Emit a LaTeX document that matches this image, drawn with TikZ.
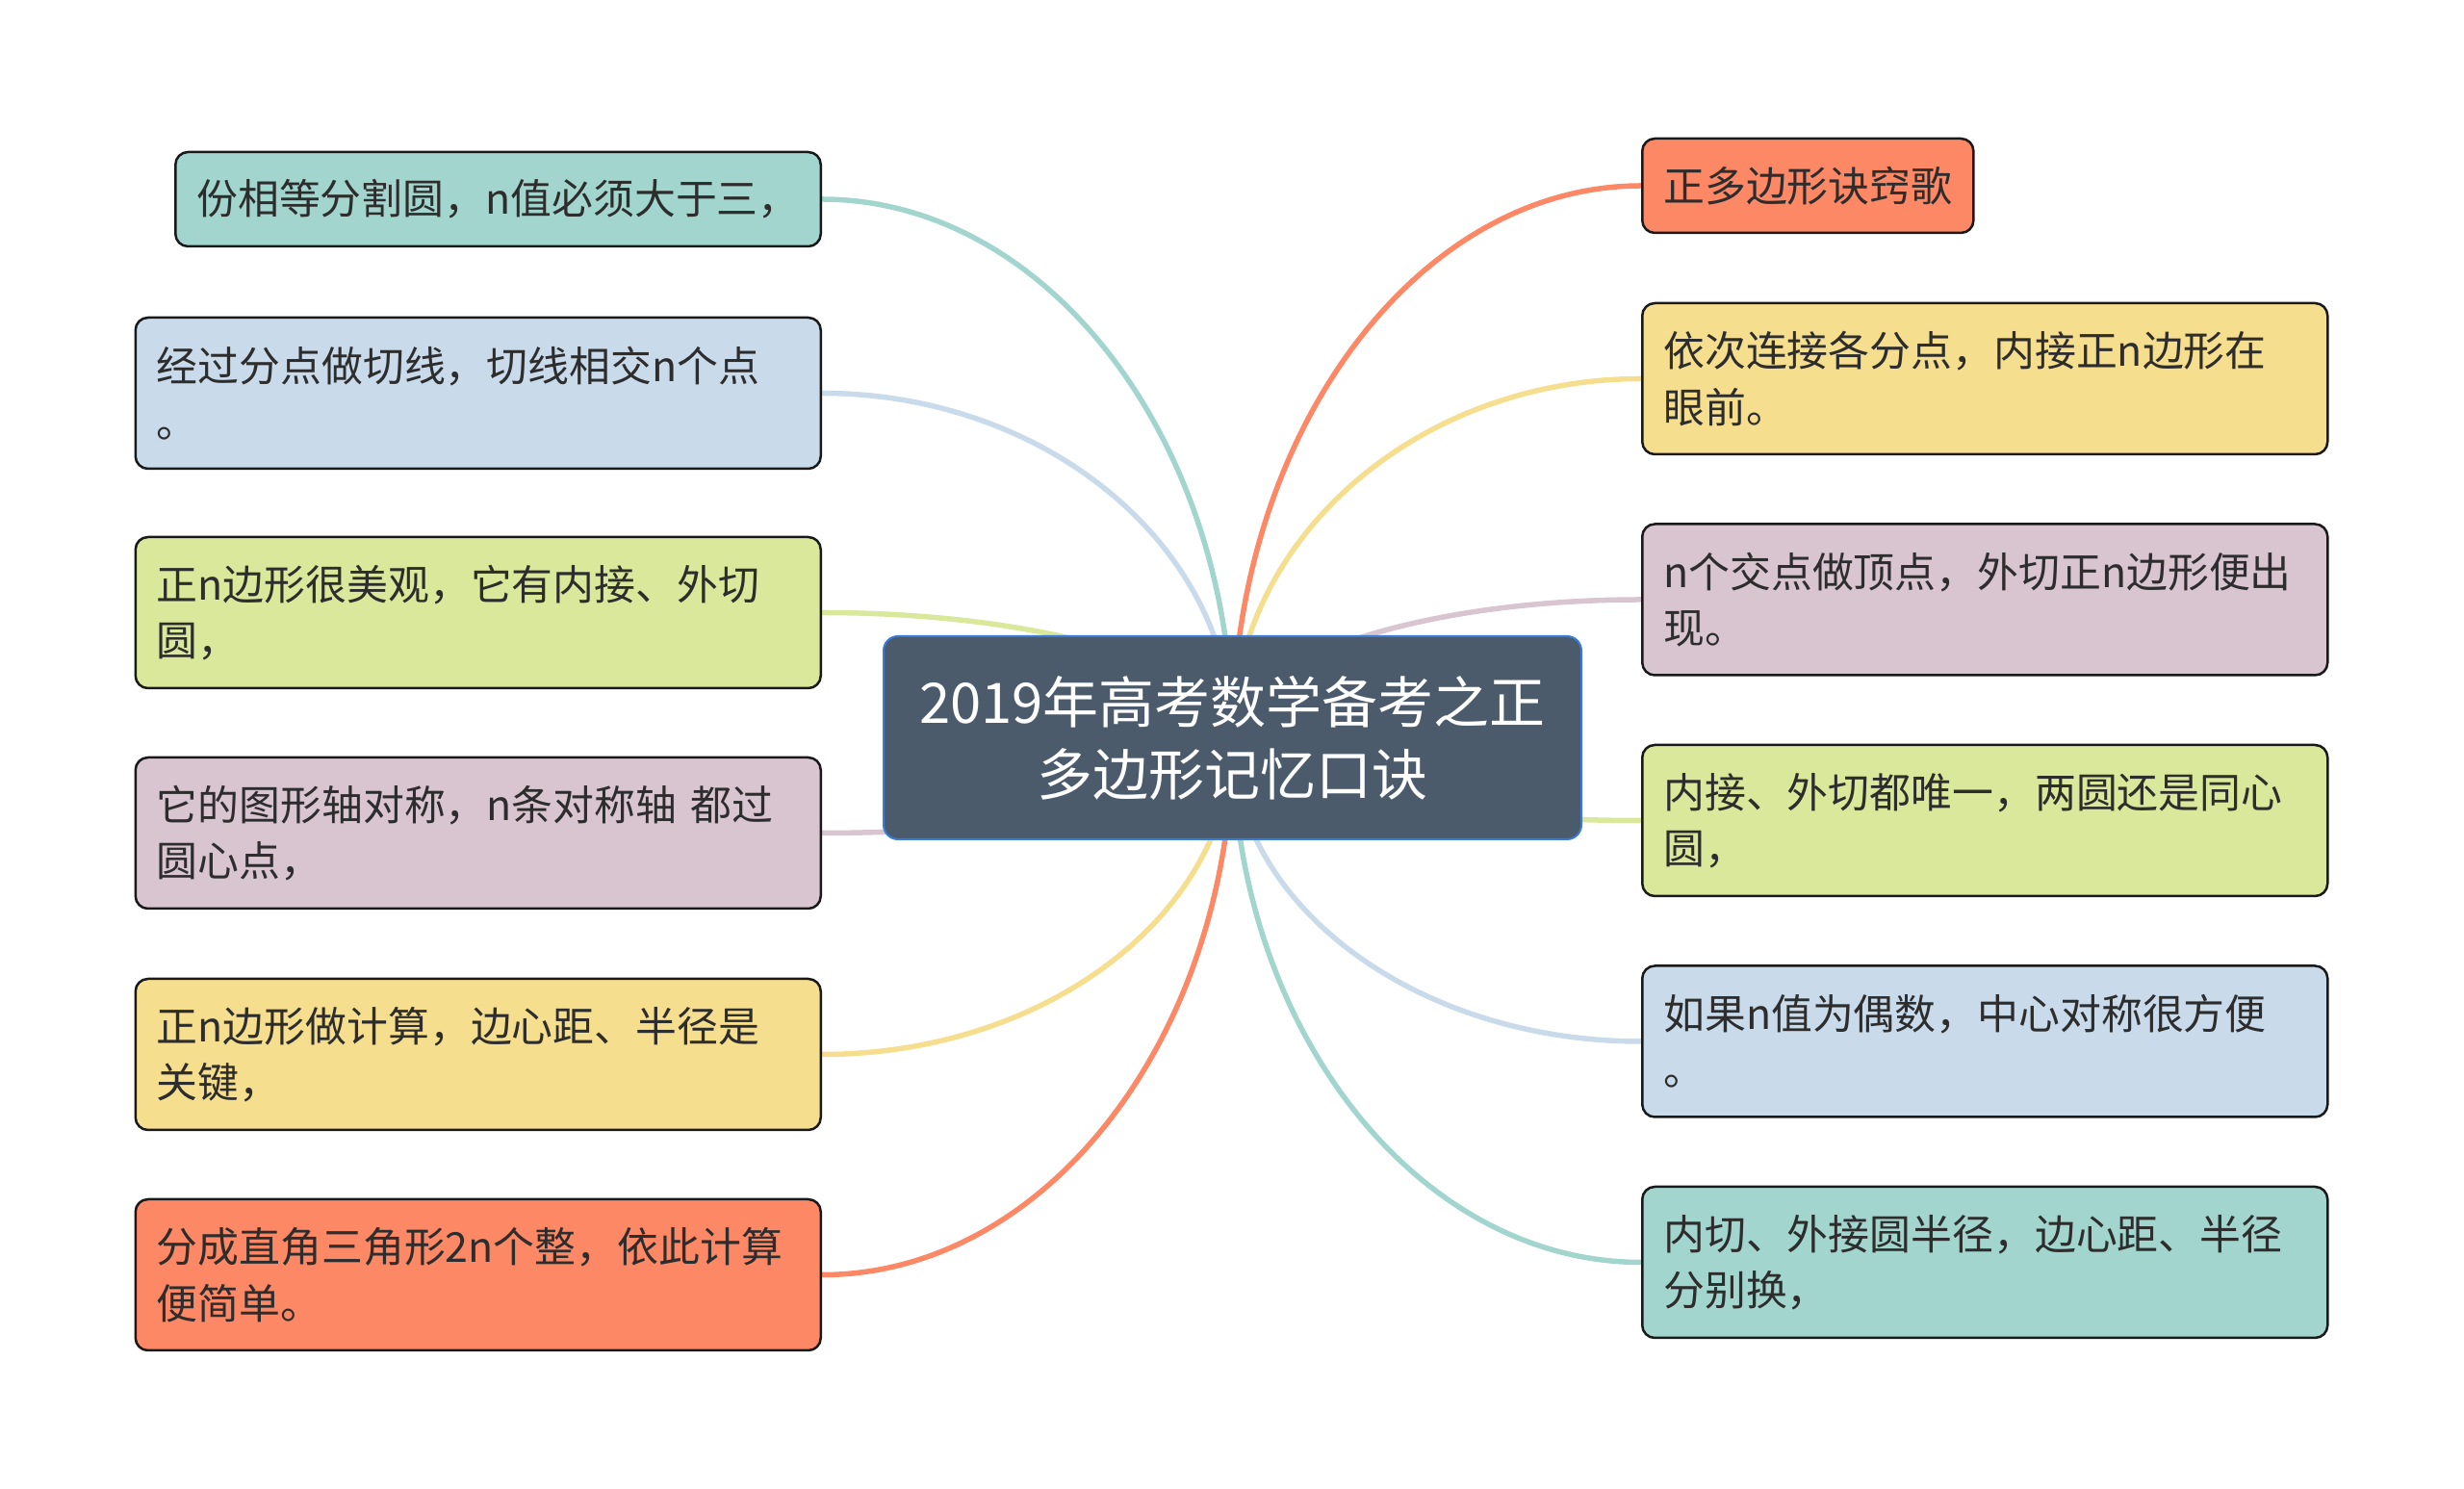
\documentclass[tikz,border=0pt]{standalone}
\usepackage{fontspec}
\usepackage{tikz}
\usetikzlibrary{backgrounds,calc}
\usepackage{xcolor}
\newfontfamily\cjkfont{Noto Sans CJK SC}
\definecolor{tealbox}{HTML}{A3D5CF}
\definecolor{bluebox}{HTML}{C9DBEA}
\definecolor{greenbox}{HTML}{DAE89B}
\definecolor{mauvebox}{HTML}{D8C5D0}
\definecolor{yellowbox}{HTML}{F6DE8F}
\definecolor{salmonbox}{HTML}{FC8866}
\definecolor{rootfill}{HTML}{4B5B6B}
\definecolor{rootline}{HTML}{3A7BD5}
\definecolor{leaftext}{HTML}{2D2D2D}

\begin{document}
\begin{tikzpicture}[
  leaf/.style={draw=black!90, line width=0.25mm, rounded corners=1.3mm, text=leaftext,
    font=\cjkfont\fontsize{12.2}{16.6}\selectfont, inner xsep=2.2mm, inner ysep=1mm, align=left},
  twoline/.style={leaf, text width=66.8mm, minimum height=15.7mm},
  oneline/.style={leaf, minimum height=9.8mm},
  branch/.style={line width=0.55mm}
]
\useasboundingbox (0,0) rectangle (25.6,15.47);
%%%ROOT
\node[draw=rootline, line width=0.2mm, fill=rootfill, rounded corners=1.5mm, text=white,
  font=\cjkfont\fontsize{16.5}{21.3}\selectfont, align=center,
  minimum width=72.5mm, minimum height=21.1mm] (root) at (12.805,7.805)
  {2019年高考数学备考之正\\多边形记忆口诀};
%%%LEFT LEAVES
\node[oneline, fill=tealbox, anchor=east] (l1) at (8.54,13.40) {份相等分割圆，n值必须大于三，};
\node[twoline, fill=bluebox, anchor=east] (l2) at (8.54,11.385) {经过分点做切线，切线相交n个点\\。};
\node[twoline, fill=greenbox, anchor=east] (l3) at (8.54,9.105) {正n边形很美观，它有内接、外切\\圆，};
\node[twoline, fill=mauvebox, anchor=east] (l4) at (8.54,6.815) {它的图形轴对称，n条对称轴 都过\\圆心点，};
\node[twoline, fill=yellowbox, anchor=east] (l5) at (8.54,4.515) {正n边形做计算，边心距、半径是\\关键，};
\node[twoline, fill=salmonbox, anchor=east] (l6) at (8.54,2.225) {分成直角三角形2n个整，依此计算\\便简单。};
%%%RIGHT LEAVES
\node[oneline, fill=salmonbox, anchor=west] (r1) at (17.05,13.54) {正多边形诀窍歌};
\node[twoline, fill=yellowbox, anchor=west] (r2) at (17.05,11.535) {依次连接各分点，内接正n边形在\\眼前。};
\node[twoline, fill=mauvebox, anchor=west] (r3) at (17.05,9.24) {n个交点做顶点，外切正n边形便出\\现。};
\node[twoline, fill=greenbox, anchor=west] (r4) at (17.05,6.945) {内接、外切都唯一，两圆还是同心\\圆，};
\node[twoline, fill=bluebox, anchor=west] (r5) at (17.05,4.65) {如果n值为偶数，中心对称很方便\\。};
\node[twoline, fill=tealbox, anchor=west] (r6) at (17.05,2.355) {内切、外接圆半径，边心距、半径\\分别换，};
%%%BRANCHES
\begin{scope}[on background layer]
\foreach \n/\a/\col in {l1/east/tealbox, l2/east/bluebox, l3/east/greenbox,
    l4/east/mauvebox, l5/east/yellowbox, l6/east/salmonbox,
    r1/west/salmonbox, r2/west/yellowbox, r3/west/mauvebox,
    r4/west/greenbox, r5/west/bluebox, r6/west/tealbox}
  \draw[branch, color=\col] (root.center)
    .. controls ($(root.center)!0.55!(root.center |- \n.\a)$)
    and ($(\n.\a)!0.55!(root.center |- \n.\a)$) .. (\n.\a);
\end{scope}
\end{tikzpicture}
\end{document}
